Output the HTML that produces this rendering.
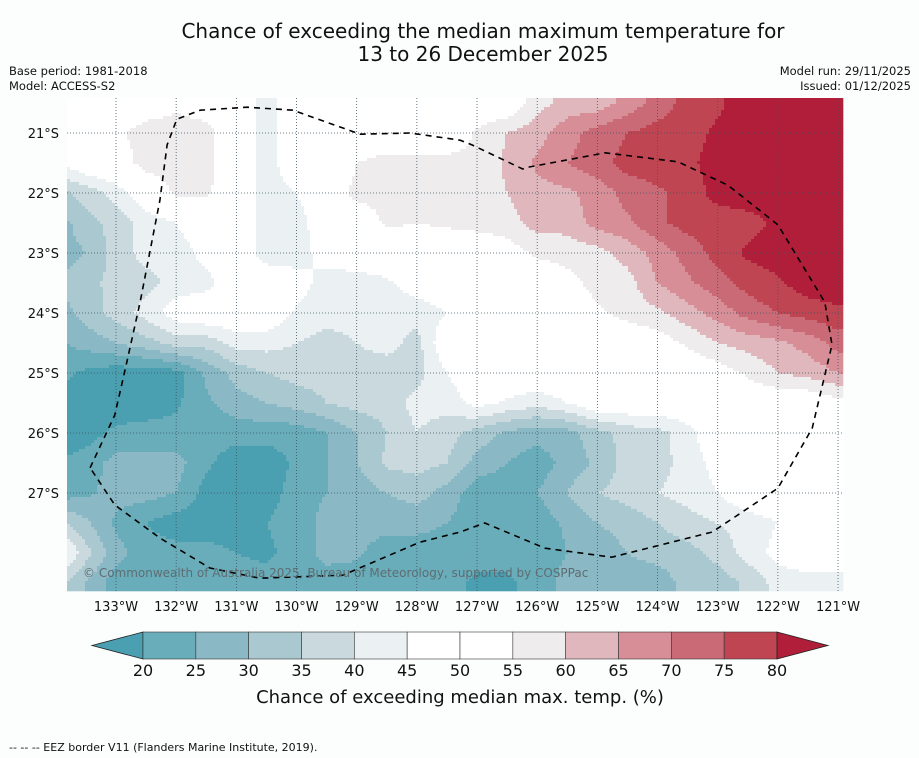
<!DOCTYPE html>
<html><head><meta charset="utf-8">
<style>
html,body{margin:0;padding:0;background:#fcfefe;}
body{width:919px;height:758px;position:relative;overflow:hidden;font-family:"Liberation Sans","DejaVu Sans",sans-serif;}
</style></head>
<body>
<svg id="chart" width="919" height="758" xmlns="http://www.w3.org/2000/svg" style="position:absolute;left:0;top:0;font-family:'DejaVu Sans','Liberation Sans',sans-serif">
<text x="483" y="38" text-anchor="middle" font-size="20" fill="#111">Chance of exceeding the median maximum temperature for</text>
<text x="483" y="61" text-anchor="middle" font-size="20" fill="#111">13 to 26 December 2025</text>
<text x="9" y="75" font-size="11.5" fill="#111">Base period: 1981-2018</text>
<text x="9" y="90" font-size="11.5" fill="#111">Model: ACCESS-S2</text>
<text x="911" y="75" text-anchor="end" font-size="11.5" fill="#111">Model run: 29/11/2025</text>
<text x="911" y="90" text-anchor="end" font-size="11.5" fill="#111">Issued: 01/12/2025</text>
<g id="field"></g>
<g id="grid"></g>
<g id="ticks"></g>
<path id="eez" fill="none" stroke="#000" stroke-width="1.6" stroke-dasharray="6,5"/>
<text x="83" y="577" font-size="12" fill="#5d6d72">© Commonwealth of Australia 2025, Bureau of Meteorology, supported by COSPPac</text>
<g id="cbar"></g>
<text x="460" y="703" text-anchor="middle" font-size="18" fill="#111">Chance of exceeding median max. temp. (%)</text>
<text x="9" y="751" font-size="11" fill="#111">--  --  -- EEZ border V11 (Flanders Marine Institute, 2019).</text>
</svg>
<script>
const lons=[-134,-133.5,-133,-132.5,-132,-131.5,-131,-130.5,-130,-129.5,-129,-128.5,-128,-127.5,-127,-126.5,-126,-125.5,-125,-124.5,-124,-123.5,-123,-122.5,-122,-121.5,-121];
const lats=[20.5,21,21.5,22,22.5,23,23.5,24,24.5,25,25.5,26,26.5,27,27.5,28,28.5];
const values=[
[50,50,50,52,54,52,50,42,50,50,50,50,50,50,50,50,58,62,62,67,72,77,79,83,83,83,83],
[50,50,54,57,57,57,50,42,50,50,50,50,50,50,56,60,63,68,72,75,77,78,81,83,83,83,83],
[45,50,52,57,57,57,50,42,50,47,55,57,57,57,56,61,66,70,73,77,78,79,82,83,83,83,83],
[33,37,42,50,56,56,50,42,45,50,57,57,57,57,57,60,63,64,67,72,74,77,82,83,83,83,83],
[27,33,37,42,45,50,50,42,42,50,50,56,55,56,57,58,62,62,67,69,74,77,77,78,81,83,83],
[27,30,37,42,42,47,50,42,42,48,50,50,50,50,50,52,56,57,58,62,67,72,77,81,83,83,83],
[30,33,37,38,42,43,50,50,48,42,42,44,48,50,50,50,50,53,57,58,65,69,73,77,79,83,83],
[27,32,37,42,48,50,50,50,44,42,42,42,42,45,50,50,50,50,54,57,59,63,67,72,75,77,79],
[24,27,30,33,37,37,42,42,40,38,40,42,38,50,50,50,50,50,50,50,52,56,60,62,64,67,72],
[22,19,17,17,18,26,32,35,37,37,38,37,38,45,50,50,50,50,50,50,50,50,52,56,60,62,65],
[17,17,17,17,19,24,28,30,32,35,37,37,42,42,47,44,42,45,50,50,50,50,50,50,50,50,53],
[17,18,21,22,22,22,22,22,22,25,30,35,40,37,33,29,27,28,33,37,38,43,50,50,50,50,50],
[20,22,27,27,27,21,17,17,21,25,30,36,37,35,28,25,22,27,31,37,38,42,47,50,50,50,50],
[22,24,27,27,25,18,17,18,22,25,27,30,32,28,22,22,25,30,35,37,40,42,45,50,50,50,50],
[37,31,24,20,17,17,17,20,22,27,27,27,27,25,22,22,22,26,30,32,35,38,40,42,45,50,50],
[50,37,27,22,22,22,20,19,22,27,26,22,22,22,22,22,22,25,27,30,32,33,37,42,47,50,50],
[37,30,22,22,22,22,22,22,22,22,22,22,22,22,19,19,22,27,27,27,27,32,32,36,42,42,42]
];
const levels=[20,25,30,35,40,45,55,60,65,70,75,80];
const colors=['#4a9fb0','#6aadba','#8ab8c4','#a9c8cf','#cad9de','#ebf0f3','#ffffff','#efecee','#e0b7bd','#d78e97','#c96a76','#c04552','#b01e3a'];
const cbColorIdx=[1,2,3,4,5,6,6,7,8,9,10,11];
const cbLabels=['20','25','30','35','40','45','50','55','60','65','70','75','80'];
const lonTicks=[-133,-132,-131,-130,-129,-128,-127,-126,-125,-124,-123,-122,-121];
const latTicks=[21,22,23,24,25,26,27];
const eezLonLat=[[-133.43,26.58],[-133.02,25.70],[-132.82,24.82],[-132.60,23.82],[-132.27,22.12],[-132.15,21.2],[-131.99,20.77],[-131.60,20.62],[-130.82,20.57],[-130.06,20.62],[-128.94,21.02],[-128.11,21.0],[-127.28,21.12],[-127.08,21.2],[-126.24,21.6],[-126.15,21.57],[-124.87,21.33],[-123.66,21.48],[-122.83,21.87],[-122.0,22.53],[-121.22,23.82],[-121.10,24.53],[-121.43,25.92],[-122.0,26.92],[-123.09,27.65],[-124.76,28.07],[-125.87,27.92],[-126.87,27.5],[-127.28,27.65],[-127.95,27.82],[-129.23,28.37],[-130.61,28.42],[-131.44,28.25],[-132.27,27.75],[-133.02,27.2],[-133.43,26.58]];
const PX0=67,PX1=843,PY0=98,PY1=591;
const xOf=lon=>116+(lon+133)*60.17;
const yOf=lat=>133+(lat-21)*60;
const lonOf=x=>(x-116)/60.17-133;
const latOf=y=>(y-133)/60+21;
const NS='http://www.w3.org/2000/svg';
function mk(tag,attrs,parent){const e=document.createElementNS(NS,tag);for(const k in attrs)e.setAttribute(k,attrs[k]);parent.appendChild(e);return e;}
function sample(lon,lat){
  let fi=(lon-lons[0])/0.5, fj=(lat-lats[0])/0.5;
  fi=Math.max(0,Math.min(lons.length-1.0001,fi)); fj=Math.max(0,Math.min(lats.length-1.0001,fj));
  const i=Math.floor(fi),j=Math.floor(fj),a=fi-i,b=fj-j;
  return values[j][i]*(1-a)*(1-b)+values[j][i+1]*a*(1-b)+values[j+1][i]*(1-a)*b+values[j+1][i+1]*a*b;
}
function level(v){let k=0;while(k<levels.length&&v>=levels[k])k++;return k;}
const field=document.getElementById('field');
const step=3;
function addRun(x0,x1,y,h,lev){
  const r=mk('rect',{x:x0,y:y,width:x1-x0+0.3,height:h+0.3,fill:colors[lev]},field);
  
  
}
for(let y=PY0;y<PY1;y+=step){
  const h=Math.min(step,PY1-y);
  let runStart=PX0,runLev=null;
  for(let x=PX0;x<PX1;x+=step){
    const lev=level(sample(lonOf(Math.min(x+step/2,PX1)),latOf(y+h/2)));
    if(runLev===null){runLev=lev;runStart=x;continue;}
    if(lev!==runLev){addRun(runStart,x,y,h,runLev);runLev=lev;runStart=x;}
  }
  addRun(runStart,PX1,y,h,runLev);
}
const grid=document.getElementById('grid'),ticks=document.getElementById('ticks');
lonTicks.forEach(lon=>{
  const x=xOf(lon);
  const l=mk('line',{x1:x,y1:PY0,x2:x,y2:PY1,stroke:'#3d5560','stroke-width':0.8,'stroke-dasharray':'1,2'},grid);
  
  
  const t=mk('text',{x:x,y:611,'text-anchor':'middle','font-size':13,fill:'#111'},ticks);
  t.textContent=(-lon)+'°W';
  
  
});
latTicks.forEach(lat=>{
  const y=yOf(lat);
  const l=mk('line',{x1:PX0,y1:y,x2:PX1,y2:y,stroke:'#3d5560','stroke-width':0.8,'stroke-dasharray':'1,2'},grid);
  
  
  const t=mk('text',{x:59,y:y+5,'text-anchor':'end','font-size':13,fill:'#111'},ticks);
  t.textContent=lat+'°S';
  
  
});
document.getElementById('eez').setAttribute('d',eezLonLat.map((p,i)=>(i?'L':'M')+xOf(p[0]).toFixed(1)+','+yOf(p[1]).toFixed(1)).join(''));
const cb=document.getElementById('cbar');
const cx0=143,cx1=777,cy0=632,cy1=659,cw=(cx1-cx0)/12;
let p=mk('polygon',{points:`${cx0},${cy0} ${cx0},${cy1} 92,${(cy0+cy1)/2}`,fill:colors[0],stroke:'#222','stroke-width':0.8},cb);


for(let k=0;k<12;k++){
  const r=mk('rect',{x:cx0+k*cw,y:cy0,width:cw,height:cy1-cy0,fill:colors[cbColorIdx[k]],stroke:'#333','stroke-width':0.6},cb);
  
  
}
p=mk('polygon',{points:`${cx1},${cy0} ${cx1},${cy1} 828,${(cy0+cy1)/2}`,fill:colors[12],stroke:'#222','stroke-width':0.8},cb);


cbLabels.forEach((s,k)=>{
  const t=mk('text',{x:cx0+k*cw,y:676,'text-anchor':'middle','font-size':16,fill:'#111'},cb);
  t.textContent=s;
  
  
});
</script>
</body></html>
